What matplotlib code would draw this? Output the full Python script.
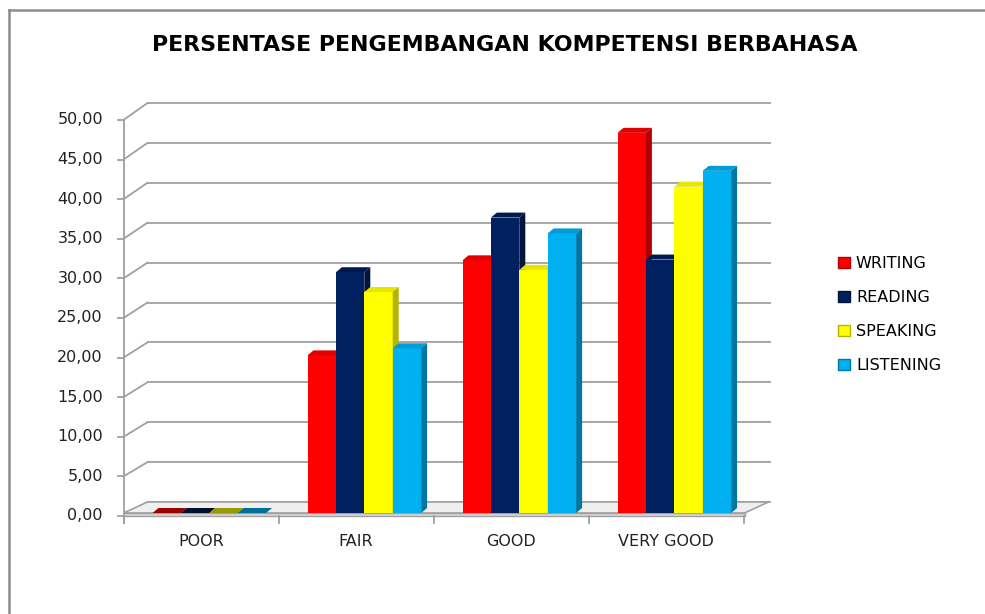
import matplotlib.pyplot as plt
from matplotlib.patches import Polygon, Patch
from matplotlib.lines import Line2D

categories = ['POOR', 'FAIR', 'GOOD', 'VERY GOOD']
series = ['WRITING', 'READING', 'SPEAKING', 'LISTENING']
writing = [0.0, 19.9, 31.9, 48.0]
reading = [0.0, 30.4, 37.3, 32.0]
speaking = [0.0, 27.9, 30.7, 41.2]
listening = [0.0, 20.8, 35.3, 43.2]
yticks = [0, 5, 10, 15, 20, 25, 30, 35, 40, 45, 50]

front_cols = ['#FF0000', '#002060', '#FFFF00', '#00B0F0']
side_cols = ['#B00000', '#00143C', '#B4B400', '#0076A3']
top_cols = ['#E00000', '#001A50', '#E6E600', '#009CD6']
flat_cols = ['#990000', '#001030', '#999900', '#006E96']

W, H = 985, 614
fig = plt.figure(figsize=(W / 100, H / 100), dpi=100)
ax = fig.add_axes([0, 0, 1, 1])

# pixel <-> data mapping so the fake 3d offsets are easy to reason about
X0, Y0 = 123.5, 516.0
SX, SY = 155.0, 7.92
ax.set_xlim(-X0 / SX, (W - X0) / SX)
ax.set_ylim(-(H - Y0) / SY, Y0 / SY)
ax.axis('off')

DX = 24 / SX          # wall depth
b0 = 3 / SY           # floor top at the bars
ddx, ddy = 6 / SX, 5 / SY   # bar depth
bw = 28.4 / SX
grid_c = '#A0A0A0'
n_cat = len(categories)

def back(v):
    return (v * 7.98 + 14) / SY

# walls / gridlines
for v in yticks:
    ax.plot([0, DX], [v, back(v)], color=grid_c, lw=1.3, zorder=1)
    ax.plot([DX, (770 - X0) / SX], [back(v), back(v)], color=grid_c, lw=1.3, zorder=1)
    ax.plot([-6 / SX, 0], [v, v], color=grid_c, lw=1.3, zorder=1)
    ax.text(-20.5 / SX, v, f'{v:.2f}'.replace('.', ','), ha='right', va='center',
            fontsize=11.5, color='#222222')
ax.plot([0, 0], [-7 / SY, yticks[-1]], color=grid_c, lw=1.3, zorder=1)

# floor
fr = n_cat + 1 / SX
ax.add_patch(Polygon([(0, b0), (fr, b0), (fr + DX, back(0)), (DX, back(0))],
                     closed=True, facecolor='#EFEFEF', edgecolor=grid_c, lw=1.2, zorder=2))
ax.add_patch(Polygon([(0, 0), (fr, 0), (fr, b0), (0, b0)],
                     closed=True, facecolor='#DADADA', edgecolor=grid_c, lw=1.0, zorder=2))
for c in range(n_cat + 1):
    ax.plot([c, c], [0, -7 / SY], color=grid_c, lw=1.3, zorder=2)

# bars
data = [writing, reading, speaking, listening]
for i, vals in enumerate(data):
    xs = [c + 29 / SX + i * bw for c in range(n_cat)]
    ax.bar(xs, vals, width=bw, bottom=b0, align='edge', color=front_cols[i],
           linewidth=0, zorder=3 + i)
    for x, v in zip(xs, vals):
        t = b0 + v
        topc = flat_cols[i] if v == 0 else top_cols[i]
        ax.add_patch(Polygon([(x, t), (x + bw, t), (x + bw + ddx, t + ddy), (x + ddx, t + ddy)],
                             closed=True, facecolor=topc, lw=0, zorder=3 + i))
        if v > 0:
            ax.add_patch(Polygon([(x + bw, b0), (x + bw, t), (x + bw + ddx, t + ddy),
                                  (x + bw + ddx, b0 + ddy)],
                                 closed=True, facecolor=side_cols[i], lw=0, zorder=3 + i))

for c, name in enumerate(categories):
    ax.text(c + 0.5, -26 / SY, name, ha='center', va='center', fontsize=11.5, color='#222222')

ax.text((505 - X0) / SX, (Y0 - 45) / SY, 'PERSENTASE PENGEMBANGAN KOMPETENSI BERBAHASA',
        ha='center', va='center', fontsize=15.9, fontweight='bold', color='black')

handles = [Patch(facecolor=front_cols[i], edgecolor=side_cols[i], label=series[i])
           for i in range(len(series))]
ax.legend(handles=handles, loc='center left', bbox_to_anchor=(832 / W, 1 - 314.5 / H),
          frameon=False, fontsize=11.5, handlelength=0.7, handleheight=0.7,
          handletextpad=0.4, labelspacing=1.2, borderaxespad=0)

# chart border (left and top only visible)
fig.add_artist(Line2D([9 / W, 9 / W], [0, 1 - 10 / H], color='#8C8C8C', lw=1.8))
fig.add_artist(Line2D([9 / W, 1], [1 - 10 / H, 1 - 10 / H], color='#8C8C8C', lw=1.8))

fig.savefig('out.png', dpi=100)
